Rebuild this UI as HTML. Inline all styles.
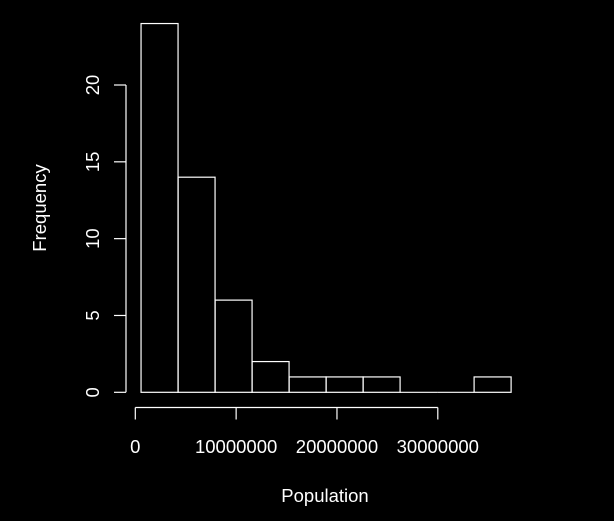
<!DOCTYPE html>
<html><head><meta charset="utf-8"><style>
html,body{margin:0;padding:0;background:#000;}
svg{display:block;font-family:"Liberation Sans",sans-serif;}
</style></head><body>
<svg width="614" height="521" viewBox="0 0 614 521">
<rect width="614" height="521" fill="#000"/>
<g id="bars"></g>
<g id="xaxis"></g>
<g id="yaxis"></g>
<text x="325" y="502" fill="#fff" font-size="18.5" text-anchor="middle">Population</text>
<text transform="translate(46,208) rotate(-90)" fill="#fff" font-size="18.5" text-anchor="middle">Frequency</text>
</svg>
<script>
const breaks = [570000, 4240000, 7910000, 11580000, 15250000, 18920000, 22590000, 26260000, 29930000, 33600000, 37270000];
const counts = [24, 14, 6, 2, 1, 1, 1, 0, 0, 1];
const xTicks = [0, 10000000, 20000000, 30000000];
const xTickLabels = ["0", "10000000", "20000000", "30000000"];
const yTicks = [0, 5, 10, 15, 20];

const NS = "http://www.w3.org/2000/svg";
const xs = v => 135.3 + v * (302.5 / 30000000);
const ys = v => 392.3 - v * 15.365;
function mk(tag, attrs, parent) {
  const e = document.createElementNS(NS, tag);
  for (const k in attrs) e.setAttribute(k, attrs[k]);
  parent.appendChild(e);
  return e;
}
const bars = document.getElementById('bars');
counts.forEach((c, i) => {
  const x0 = xs(breaks[i]), x1 = xs(breaks[i + 1]);
  let r;
  if (c === 0) {
    r = mk('line', {x1: x0, x2: x1, y1: ys(0), y2: ys(0), stroke: '#fff', 'stroke-width': 1.2}, bars);
  } else {
    r = mk('rect', {x: x0, y: ys(c), width: x1 - x0, height: ys(0) - ys(c), fill: 'none', stroke: '#fff', 'stroke-width': 1.2}, bars);
  }
  
  
});
const xa = document.getElementById('xaxis');
const xl = mk('line', {x1: xs(xTicks[0]), x2: xs(xTicks[xTicks.length - 1]), y1: 407.5, y2: 407.5, stroke: '#fff', 'stroke-width': 1.2}, xa);


xTicks.forEach((t, i) => {
  const tk = mk('line', {x1: xs(t), x2: xs(t), y1: 407.5, y2: 419.5, stroke: '#fff', 'stroke-width': 1.2}, xa);
  
  
  const tx = mk('text', {x: xs(t), y: 453, fill: '#fff', 'font-size': 18.5, 'text-anchor': 'middle'}, xa);
  tx.textContent = xTickLabels[i];
  
  
});
const ya = document.getElementById('yaxis');
const yl = mk('line', {x1: 126, x2: 126, y1: ys(yTicks[0]), y2: ys(yTicks[yTicks.length - 1]), stroke: '#fff', 'stroke-width': 1.2}, ya);


yTicks.forEach(t => {
  const tk = mk('line', {x1: 114, x2: 126, y1: ys(t), y2: ys(t), stroke: '#fff', 'stroke-width': 1.2}, ya);
  
  
  const tx = mk('text', {transform: 'translate(99,' + ys(t) + ') rotate(-90)', fill: '#fff', 'font-size': 18.5, 'text-anchor': 'middle'}, ya);
  tx.textContent = String(t);
  
  
});
</script>
</body></html>
